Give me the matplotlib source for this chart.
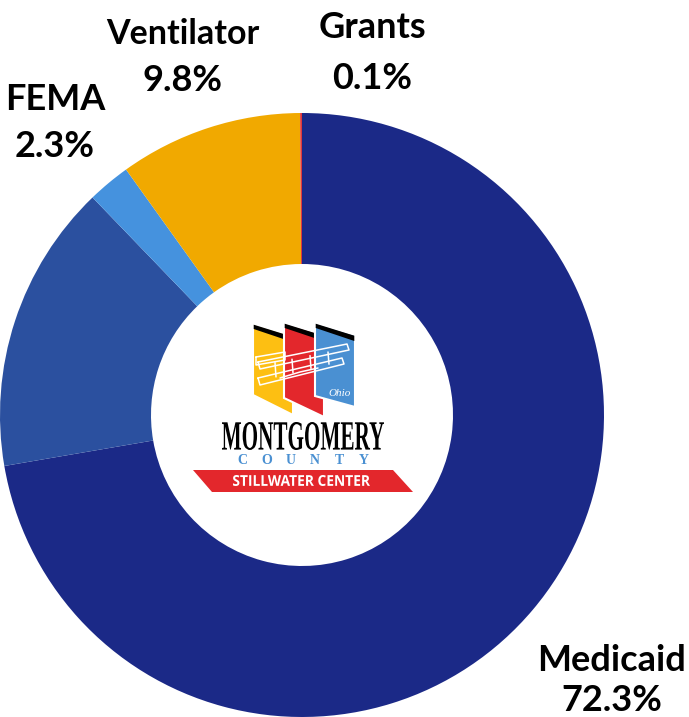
import numpy as np
import matplotlib
matplotlib.use("Agg")
import matplotlib.pyplot as plt
from matplotlib.patches import Polygon, PathPatch
from matplotlib.textpath import TextPath
from matplotlib.font_manager import FontProperties
from matplotlib.transforms import Affine2D

# data
categories = ["Medicaid", "Other", "FEMA", "Ventilator", "Grants"]
shares = [72.3, 15.5, 2.3, 9.8, 0.1]
colors = ["#1b2987", "#2b509f", "#4592de", "#f1a900", "#e0383c"]
show_label = [True, False, True, True, True]

W, H = 689, 717
fig = plt.figure(figsize=(W / 100, H / 100), dpi=100)

# donut: centre (302, 415) px, radius 302 px
ax = fig.add_axes([0, 0, 604 / W, 604 / H])
ax.pie(shares, colors=colors, startangle=90, counterclock=False,
       wedgeprops=dict(width=0.5, edgecolor="none", linewidth=0))
ax.set_xlim(-1, 1)
ax.set_ylim(-1, 1)
ax.axis("off")

# overlay in pixel coords for labels and the logo
ov = fig.add_axes([0, 0, 1, 1], zorder=5)
ov.set_xlim(0, W)
ov.set_ylim(H, 0)
ov.axis("off")

label_pos = {  # (x centre, name baseline, pct baseline)
    "Medicaid": (612, 671, 711),
    "FEMA": (55, 110, 157),
    "Ventilator": (183, 44, 91),
    "Grants": (372, 38, 89),
}
lab_font = dict(family="Lato", weight="bold", fontsize=26, color="black",
                ha="center", va="baseline")
for cat, val, show in zip(categories, shares, show_label):
    if not show:
        continue
    x, y1, y2 = label_pos[cat]
    fs = 24.5 if cat == "Ventilator" else 26
    ov.text(x, y1, cat, **{**lab_font, "fontsize": fs})
    ov.text(x, y2, f"{val}%", **lab_font)


def fit_text(s, x0, x1, ytop, ybot, color, fp):
    tp = TextPath((0, 0), s, size=10, prop=fp)
    ext = tp.get_extents()
    sx = (x1 - x0) / ext.width
    sy = (ybot - ytop) / ext.height
    tr = Affine2D().translate(-ext.x0, -ext.y0).scale(sx, -sy).translate(x0, ybot)
    ov.add_patch(PathPatch(tr.transform_path(tp), facecolor=color, lw=0))


# logo flags
flags = [
    ("#fdbf12", 253, 293, 324, 336, 395, 415),
    ("#e3272c", 284, 324, 323, 335, 398, 417),
    ("#4a90d2", 315, 355, 323, 335, 396, 407),
]
for col, xl, xr, ytl, ytr, ybl, ybr in flags:
    ov.add_patch(Polygon([(xl, ytl), (xr, ytr), (xr, ybr), (xl, ybl)],
                         closed=True, facecolor=col, edgecolor="white", lw=1.5))
    ov.add_patch(Polygon([(xl + 0.7, ytl + 0.7), (xr - 0.7, ytr + 0.7),
                          (xr - 0.7, ytr + 6), (xl + 0.7, ytl + 5)],
                         closed=True, facecolor="black", edgecolor="none"))

# rough airplane outline
plane = dict(color="white", lw=1.1, solid_capstyle="round")
ov.plot([258, 347, 349, 260, 258], [362, 344, 350, 369, 362], **plane)
ov.plot([258, 342, 344, 260, 258], [378, 358, 364, 385, 378], **plane)
for sx in [275, 292, 310, 328]:
    ov.plot([sx, sx + 1], [366 - (sx - 258) * 0.2, 381 - (sx - 258) * 0.24], **plane)
ov.plot([256, 285, 285, 256, 256], [357, 352, 360, 365, 357], **plane)
ov.plot([280, 300, 318], [378, 372, 368], **plane)
ov.text(340, 394, "Ohio", family="Liberation Serif", style="italic",
        fontsize=8, color="white", ha="center", va="center")

# MONTGOMERY wordmark
fit_text("MONTGOMERY", 222, 384, 422, 450, "black",
         FontProperties(family="Liberation Serif", weight="bold"))
for ch, cx in zip("COUNTY", np.linspace(242, 364, 6)):
    ov.text(cx, 461, ch, family="Liberation Serif", weight="bold", fontsize=10,
            color="#4a90d2", ha="center", va="center")

# red banner
ov.add_patch(Polygon([(193, 470), (393, 470), (413, 492), (212, 492)],
                     closed=True, facecolor="#e3272c", edgecolor="none"))
fit_text("STILLWATER CENTER", 233, 370, 475, 486, "white",
         FontProperties(family="Open Sans", weight="bold"))

fig.savefig("out.png", dpi=100)
